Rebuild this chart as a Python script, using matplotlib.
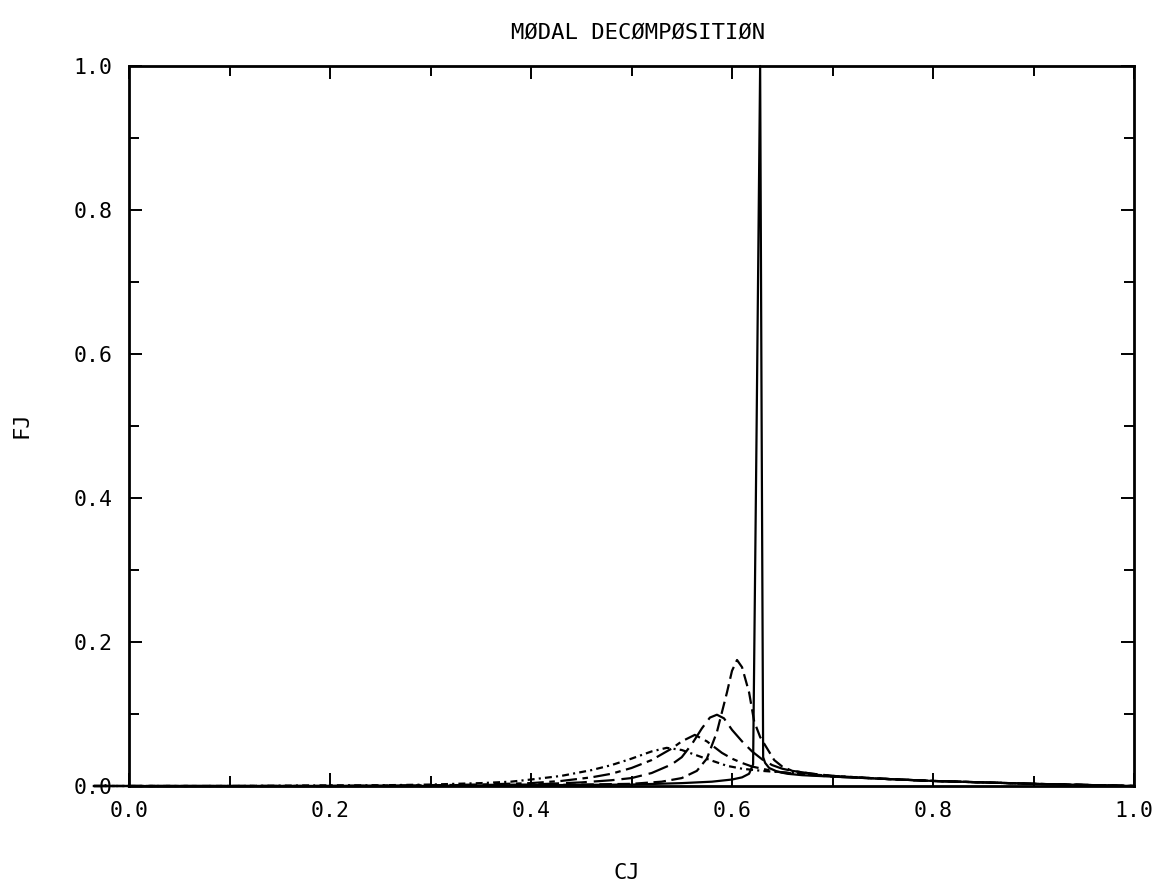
import matplotlib
matplotlib.use("Agg")
import matplotlib.pyplot as plt
from matplotlib.ticker import MultipleLocator

# phase speed CJ and modal fractions FJ
cj_solid = [-0.035, 0.0, 0.2, 0.3, 0.4, 0.5, 0.55, 0.58, 0.6, 0.61, 0.617, 0.621,
            0.6245, 0.628, 0.6295, 0.631, 0.633, 0.637, 0.645, 0.655, 0.67, 0.7,
            0.75, 0.8, 0.85, 0.9, 0.95, 1.0]
fj_solid = [0, 0, 0, 0, 0.001, 0.002, 0.004, 0.006, 0.009, 0.012, 0.017, 0.03,
            0.5, 1.0, 0.5, 0.04, 0.032, 0.025, 0.02, 0.017, 0.015, 0.013,
            0.010, 0.007, 0.005, 0.003, 0.0015, 0]

cj_dash = [-0.035, 0.0, 0.2, 0.3, 0.4, 0.45, 0.5, 0.53, 0.55, 0.565, 0.575, 0.585,
           0.595, 0.600, 0.605, 0.610, 0.617, 0.622, 0.628, 0.635, 0.642, 0.65,
           0.66, 0.68, 0.7, 0.75, 0.8, 0.85, 0.9, 0.95, 1.0]
fj_dash = [0, 0, 0, 0, 0.001, 0.002, 0.003, 0.006, 0.011, 0.021, 0.038, 0.075,
           0.13, 0.160, 0.175, 0.165, 0.13, 0.09, 0.068, 0.052, 0.036, 0.027,
           0.021, 0.017, 0.014, 0.010, 0.007, 0.005, 0.003, 0.0015, 0]

cj_long = [-0.035, 0.0, 0.2, 0.3, 0.4, 0.45, 0.48, 0.5, 0.52, 0.54, 0.55, 0.56,
           0.57, 0.578, 0.585, 0.592, 0.6, 0.61, 0.62, 0.63, 0.64, 0.65, 0.66,
           0.68, 0.7, 0.75, 0.8, 0.85, 0.9, 0.95, 1.0]
fj_long = [0, 0, 0, 0.001, 0.002, 0.005, 0.008, 0.011, 0.018, 0.03, 0.04, 0.058,
           0.08, 0.095, 0.099, 0.094, 0.078, 0.062, 0.048, 0.037, 0.029, 0.024,
           0.021, 0.017, 0.014, 0.010, 0.007, 0.005, 0.003, 0.0015, 0]

cj_dashdot = [-0.035, 0.0, 0.2, 0.3, 0.35, 0.4, 0.43, 0.46, 0.48, 0.5, 0.52, 0.54,
              0.55, 0.563, 0.575, 0.59, 0.60, 0.61, 0.62, 0.63, 0.64, 0.65, 0.67,
              0.7, 0.75, 0.8, 0.85, 0.9, 0.95, 1.0]
fj_dashdot = [0, 0, 0, 0.001, 0.002, 0.004, 0.007, 0.012, 0.017, 0.025, 0.036, 0.052,
              0.062, 0.071, 0.062, 0.046, 0.038, 0.032, 0.027, 0.024, 0.021, 0.019,
              0.016, 0.013, 0.010, 0.007, 0.005, 0.003, 0.0015, 0]

cj_dot = [-0.035, 0.0, 0.1, 0.2, 0.25, 0.3, 0.35, 0.38, 0.4, 0.43, 0.46, 0.48, 0.5,
          0.52, 0.535, 0.55, 0.57, 0.595, 0.61, 0.63, 0.65, 0.67, 0.7, 0.75, 0.8,
          0.85, 0.9, 0.95, 1.0]
fj_dot = [0, 0, 0, 0.001, 0.001, 0.002, 0.004, 0.006, 0.009, 0.014, 0.022, 0.029,
          0.038, 0.048, 0.053, 0.05, 0.04, 0.028, 0.024, 0.021, 0.019, 0.017,
          0.014, 0.010, 0.007, 0.005, 0.003, 0.0015, 0]

plt.rcParams['lines.scale_dashes'] = False
mono = 'DejaVu Sans Mono'

fig = plt.figure(figsize=(11.57, 8.86), dpi=100)
ax = fig.add_axes([129 / 1157, 100 / 886, 1005 / 1157, 720 / 886])

lw = 1.6
ax.plot(cj_solid, fj_solid, color='black', lw=lw, clip_on=False)
ax.plot(cj_dash, fj_dash, color='black', lw=lw, ls=(0, (9, 4)), clip_on=False)
ax.plot(cj_long, fj_long, color='black', lw=lw, ls=(0, (15, 5)), clip_on=False)
ax.plot(cj_dashdot, fj_dashdot, color='black', lw=lw, ls=(0, (12, 4, 4, 4)), clip_on=False)
ax.plot(cj_dot, fj_dot, color='black', lw=lw, ls=(0, (5, 3, 1.5, 3)), clip_on=False)

ax.set_xlim(0, 1)
ax.set_ylim(0, 1)
ax.xaxis.set_major_locator(MultipleLocator(0.2))
ax.xaxis.set_minor_locator(MultipleLocator(0.1))
ax.yaxis.set_major_locator(MultipleLocator(0.2))
ax.yaxis.set_minor_locator(MultipleLocator(0.1))
ax.xaxis.set_major_formatter(lambda v, p: f"{v:.1f}")
ax.yaxis.set_major_formatter(lambda v, p: f"{v:.1f}")

ax.tick_params(which='both', direction='in', top=True, right=True, width=1.4)
ax.tick_params(which='major', length=9.5)
ax.tick_params(which='minor', length=7)
ax.tick_params(axis='x', which='major', pad=11, labelsize=15.5)
ax.tick_params(axis='y', which='major', pad=12, labelsize=15.5)
for lab in ax.get_xticklabels() + ax.get_yticklabels():
    lab.set_family(mono)
for sp in ax.spines.values():
    sp.set_linewidth(2)

fig.text(638 / 1157, 1 - 33 / 886, "MØDAL DECØMPØSITIØN", family=mono,
         fontsize=16, ha='center', va='center')
fig.text(627 / 1157, 1 - 873 / 886, "CJ", family=mono, fontsize=16,
         ha='center', va='center')
fig.text(21 / 1157, 1 - 425 / 886, "FJ", family=mono, fontsize=16,
         ha='center', va='center', rotation=90)

fig.savefig('out.png', dpi=100)
